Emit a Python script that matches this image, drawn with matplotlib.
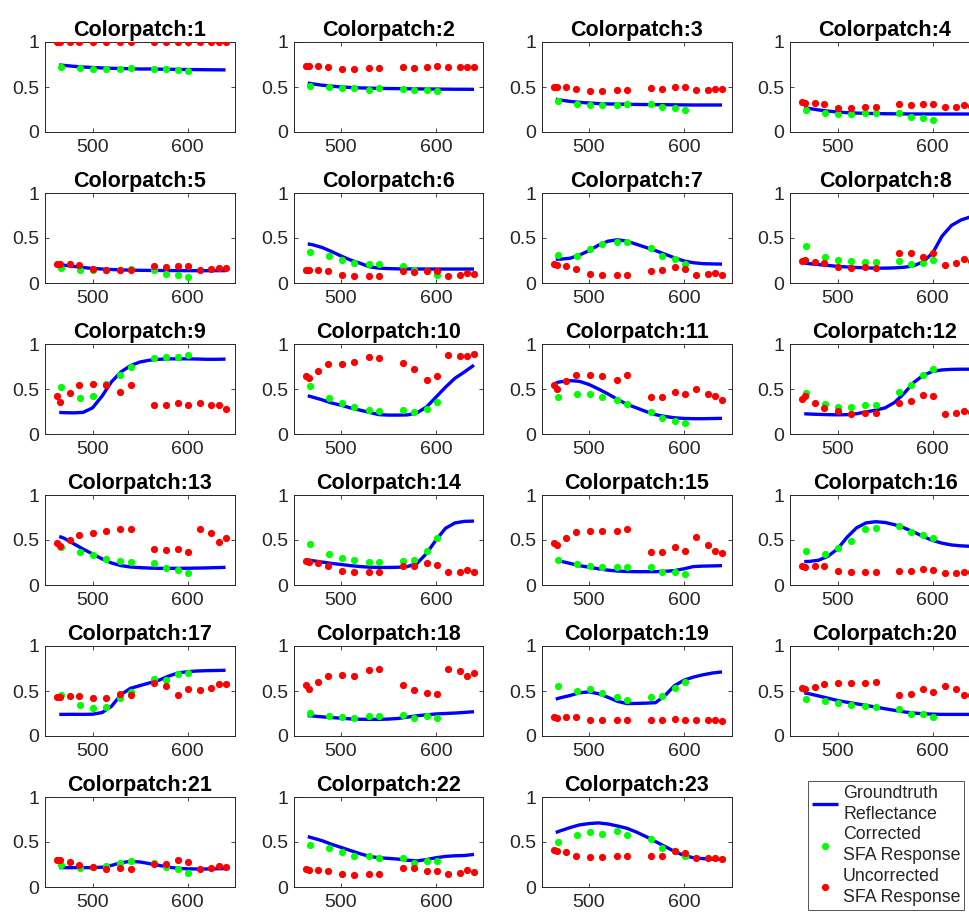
import matplotlib
matplotlib.use("Agg")
import matplotlib.pyplot as plt

plt.rcParams['font.family'] = ['Liberation Sans', 'DejaVu Sans']

# wavelengths (nm)
WL_RED = [463, 466, 476, 486, 501, 514, 529, 540, 565, 577, 590, 601, 613, 625, 633, 640]
WL_GREEN = [467, 487, 501, 514, 529, 540, 565, 577, 590, 601]
WL_GT = [465, 470, 480, 490, 500, 510, 520, 530, 540, 550, 560, 570, 580, 590, 600, 610, 620, 630, 640]

XTICKS = [500, 600]
YTICKS = [0, 0.5, 1]
YTICKLABELS = ['0', '0.5', '1']

GT = {
 1: [0.745,0.74,0.73,0.722,0.717,0.712,0.708,0.705,0.703,0.70,0.70,0.698,0.697,0.695,0.694,0.693,0.692,0.691,0.69],
 2: [0.545,0.535,0.52,0.51,0.50,0.495,0.49,0.487,0.485,0.483,0.482,0.48,0.479,0.478,0.477,0.476,0.475,0.475,0.474],
 3: [0.365,0.355,0.34,0.33,0.322,0.316,0.312,0.31,0.308,0.306,0.305,0.304,0.303,0.302,0.301,0.30,0.30,0.30,0.30],
 4: [0.275,0.262,0.245,0.232,0.222,0.215,0.21,0.207,0.205,0.203,0.202,0.201,0.20,0.20,0.20,0.20,0.20,0.20,0.20],
 5: [0.205,0.198,0.185,0.172,0.162,0.155,0.15,0.146,0.143,0.141,0.14,0.139,0.138,0.138,0.137,0.137,0.137,0.137,0.137],
 6: [0.435,0.425,0.395,0.35,0.30,0.255,0.22,0.18,0.165,0.16,0.157,0.156,0.156,0.155,0.155,0.155,0.155,0.155,0.155],
 7: [0.265,0.265,0.275,0.31,0.36,0.42,0.465,0.48,0.465,0.43,0.395,0.36,0.32,0.28,0.245,0.225,0.215,0.212,0.21],
 8: [0.222,0.215,0.205,0.195,0.185,0.178,0.172,0.168,0.165,0.165,0.168,0.175,0.19,0.235,0.33,0.52,0.64,0.70,0.735],
 9: [0.24,0.237,0.235,0.24,0.29,0.42,0.58,0.69,0.76,0.80,0.82,0.83,0.835,0.835,0.835,0.833,0.83,0.83,0.832],
 10: [0.425,0.41,0.38,0.345,0.32,0.29,0.265,0.24,0.215,0.21,0.21,0.212,0.235,0.30,0.41,0.52,0.62,0.69,0.765],
 11: [0.57,0.58,0.593,0.585,0.55,0.50,0.445,0.385,0.33,0.29,0.25,0.215,0.195,0.18,0.173,0.17,0.17,0.172,0.174],
 12: [0.225,0.222,0.218,0.215,0.213,0.215,0.225,0.245,0.265,0.29,0.35,0.45,0.57,0.65,0.695,0.712,0.718,0.72,0.72],
 13: [0.54,0.52,0.46,0.40,0.345,0.29,0.245,0.215,0.20,0.193,0.188,0.185,0.185,0.185,0.186,0.188,0.19,0.193,0.196],
 14: [0.28,0.27,0.255,0.24,0.228,0.215,0.205,0.198,0.195,0.195,0.197,0.205,0.24,0.35,0.50,0.63,0.69,0.707,0.71],
 15: [0.28,0.265,0.24,0.215,0.198,0.18,0.165,0.155,0.15,0.148,0.148,0.148,0.152,0.16,0.18,0.205,0.21,0.212,0.215],
 16: [0.26,0.262,0.275,0.32,0.40,0.53,0.635,0.69,0.703,0.695,0.67,0.635,0.59,0.54,0.495,0.465,0.445,0.435,0.43],
 17: [0.24,0.24,0.241,0.24,0.242,0.26,0.33,0.46,0.53,0.56,0.59,0.62,0.665,0.70,0.715,0.722,0.726,0.728,0.73],
 18: [0.226,0.222,0.213,0.205,0.198,0.19,0.186,0.185,0.185,0.188,0.195,0.21,0.225,0.235,0.245,0.25,0.255,0.262,0.27],
 19: [0.41,0.425,0.45,0.48,0.49,0.47,0.43,0.385,0.36,0.362,0.365,0.37,0.45,0.56,0.62,0.655,0.68,0.70,0.712],
 20: [0.48,0.47,0.445,0.42,0.395,0.375,0.358,0.34,0.322,0.303,0.285,0.268,0.255,0.247,0.243,0.24,0.24,0.24,0.24],
 21: [0.215,0.215,0.215,0.215,0.215,0.22,0.24,0.27,0.285,0.278,0.26,0.24,0.22,0.208,0.202,0.20,0.20,0.202,0.205],
 22: [0.56,0.545,0.515,0.475,0.44,0.405,0.37,0.34,0.325,0.318,0.31,0.298,0.29,0.305,0.325,0.34,0.347,0.35,0.362],
 23: [0.605,0.625,0.66,0.69,0.705,0.712,0.70,0.678,0.652,0.61,0.56,0.505,0.45,0.395,0.35,0.325,0.315,0.31,0.307],
}

RED = {
 1: [1.0]*16,
 2: [0.73,0.73,0.73,0.72,0.70,0.70,0.71,0.71,0.72,0.71,0.72,0.73,0.72,0.72,0.72,0.72],
 3: [0.50,0.50,0.50,0.48,0.46,0.46,0.47,0.47,0.49,0.48,0.50,0.50,0.47,0.47,0.48,0.48],
 4: [0.33,0.32,0.32,0.31,0.27,0.27,0.28,0.28,0.31,0.30,0.31,0.31,0.28,0.28,0.30,0.29],
 5: [0.21,0.21,0.21,0.20,0.16,0.14,0.15,0.15,0.19,0.18,0.19,0.19,0.15,0.16,0.17,0.17],
 6: [0.15,0.14,0.14,0.13,0.09,0.08,0.08,0.08,0.13,0.12,0.13,0.13,0.08,0.09,0.11,0.10],
 7: [0.21,0.20,0.19,0.16,0.10,0.09,0.09,0.09,0.13,0.14,0.18,0.16,0.09,0.10,0.11,0.09],
 8: [0.24,0.26,0.23,0.22,0.18,0.17,0.18,0.17,0.33,0.33,0.29,0.33,0.20,0.22,0.27,0.24],
 9: [0.42,0.36,0.46,0.54,0.56,0.55,0.47,0.54,0.32,0.32,0.34,0.32,0.34,0.32,0.32,0.28],
 10: [0.65,0.62,0.70,0.78,0.78,0.80,0.86,0.85,0.79,0.72,0.60,0.65,0.88,0.87,0.87,0.89],
 11: [0.55,0.50,0.59,0.66,0.66,0.64,0.60,0.66,0.41,0.41,0.47,0.44,0.50,0.44,0.42,0.38],
 12: [0.39,0.42,0.35,0.29,0.26,0.22,0.23,0.23,0.35,0.37,0.43,0.42,0.22,0.23,0.26,0.24],
 13: [0.47,0.43,0.50,0.56,0.58,0.60,0.62,0.62,0.40,0.39,0.40,0.37,0.62,0.58,0.48,0.52],
 14: [0.27,0.26,0.25,0.21,0.16,0.15,0.15,0.15,0.21,0.21,0.24,0.22,0.15,0.15,0.17,0.15],
 15: [0.47,0.44,0.52,0.59,0.60,0.60,0.60,0.62,0.37,0.37,0.42,0.38,0.53,0.44,0.38,0.36],
 16: [0.21,0.20,0.21,0.21,0.16,0.15,0.15,0.15,0.16,0.16,0.18,0.17,0.13,0.13,0.15,0.14],
 17: [0.43,0.43,0.44,0.44,0.42,0.42,0.47,0.46,0.59,0.56,0.46,0.52,0.51,0.53,0.58,0.58],
 18: [0.57,0.52,0.60,0.67,0.68,0.67,0.73,0.74,0.57,0.51,0.48,0.47,0.74,0.72,0.67,0.70],
 19: [0.21,0.20,0.21,0.21,0.18,0.18,0.18,0.18,0.18,0.18,0.19,0.18,0.18,0.18,0.18,0.17],
 20: [0.53,0.52,0.54,0.58,0.59,0.59,0.59,0.60,0.46,0.47,0.52,0.49,0.56,0.52,0.46,0.46],
 21: [0.30,0.30,0.28,0.24,0.22,0.20,0.21,0.20,0.26,0.26,0.30,0.28,0.20,0.21,0.23,0.22],
 22: [0.20,0.19,0.19,0.18,0.14,0.13,0.14,0.14,0.21,0.21,0.18,0.18,0.14,0.16,0.19,0.17],
 23: [0.41,0.40,0.39,0.35,0.33,0.33,0.34,0.34,0.35,0.35,0.40,0.38,0.32,0.32,0.32,0.31],
}

GREEN = {
 1: [0.72,0.71,0.70,0.70,0.70,0.71,0.70,0.70,0.69,0.68],
 2: [0.51,0.50,0.49,0.49,0.47,0.49,0.48,0.47,0.47,0.46],
 3: [0.34,0.31,0.30,0.30,0.30,0.31,0.31,0.28,0.27,0.25],
 4: [0.24,0.21,0.20,0.20,0.21,0.21,0.21,0.17,0.16,0.13],
 5: [0.17,0.15,0.14,0.14,0.14,0.16,0.14,0.10,0.09,0.07],
 6: [0.34,0.30,0.26,0.22,0.21,0.21,0.19,0.15,0.13,0.09],
 7: [0.31,0.30,0.38,0.43,0.46,0.46,0.39,0.30,0.27,0.21],
 8: [0.41,0.29,0.26,0.24,0.23,0.23,0.24,0.21,0.22,0.26],
 9: [0.52,0.40,0.42,0.56,0.66,0.74,0.84,0.86,0.86,0.88],
 10: [0.53,0.40,0.34,0.30,0.27,0.26,0.27,0.24,0.28,0.36],
 11: [0.41,0.45,0.45,0.41,0.38,0.33,0.24,0.18,0.15,0.12],
 12: [0.46,0.33,0.30,0.30,0.32,0.32,0.47,0.55,0.66,0.72],
 13: [0.42,0.37,0.33,0.29,0.27,0.26,0.24,0.19,0.17,0.13],
 14: [0.46,0.34,0.30,0.28,0.26,0.26,0.27,0.28,0.38,0.52],
 15: [0.28,0.23,0.21,0.20,0.20,0.20,0.20,0.15,0.15,0.12],
 16: [0.38,0.34,0.41,0.49,0.62,0.63,0.66,0.59,0.56,0.52],
 17: [0.46,0.34,0.31,0.32,0.42,0.49,0.63,0.62,0.69,0.70],
 18: [0.26,0.22,0.21,0.20,0.22,0.22,0.23,0.20,0.22,0.20],
 19: [0.56,0.50,0.52,0.48,0.43,0.40,0.43,0.44,0.53,0.60],
 20: [0.41,0.39,0.37,0.34,0.33,0.32,0.30,0.24,0.24,0.21],
 21: [0.24,0.21,0.22,0.23,0.27,0.29,0.27,0.22,0.20,0.16],
 22: [0.47,0.43,0.39,0.35,0.34,0.32,0.32,0.27,0.29,0.29],
 23: [0.50,0.58,0.61,0.59,0.62,0.58,0.53,0.43,0.40,0.34],
}

LEGEND_LABELS = ['Groundtruth\nReflectance', 'Corrected\nSFA Response', 'Uncorrected\nSFA Response']

W, H = 969, 916
fig = plt.figure(figsize=(W / 100, H / 100), dpi=100)

col_left = [45, 293.5, 541.5, 790]
row_top = [42, 193, 344, 495, 646, 797]
ax_w, ax_h = 190, 90
axcol = '#262626'

handles = None
for k in range(1, 24):
    r, c = divmod(k - 1, 4)
    ax = fig.add_axes([col_left[c] / W, (H - row_top[r] - ax_h) / H, ax_w / W, ax_h / H])
    l1, = ax.plot(WL_GT, GT[k], color='#0000ff', lw=2.4, solid_capstyle='butt', zorder=2)
    l2, = ax.plot(WL_GREEN, GREEN[k], 'o', color='#00ff00', ms=5.2, mec='none', zorder=3)
    l3, = ax.plot(WL_RED, RED[k], 'o', color='#ff0000', ms=5.2, mec='none', zorder=4)
    handles = [l1, l2, l3]
    ax.set_xlim(450, 650)
    ax.set_ylim(0, 1)
    ax.set_xticks(XTICKS)
    ax.set_yticks(YTICKS)
    ax.set_yticklabels(YTICKLABELS)
    ax.tick_params(direction='in', length=3, width=0.6, colors=axcol, labelsize=14,
                   top=True, right=True)
    ax.tick_params(axis='x', pad=5)
    ax.tick_params(axis='y', pad=4)
    for s in ax.spines.values():
        s.set_color(axcol)
        s.set_linewidth(0.7)
    ax.set_title('Colorpatch:%d' % k, fontsize=15.5, fontweight='bold', pad=4)

leg = fig.legend(handles, LEGEND_LABELS, loc='upper left',
                 bbox_to_anchor=(808 / W, (H - 781) / H), fontsize=12.8,
                 frameon=True, fancybox=False, edgecolor='#262626',
                 handlelength=1.45, handletextpad=0.3, labelspacing=0.2,
                 borderpad=0.22, borderaxespad=0)
leg.get_frame().set_linewidth(0.7)
for t in leg.get_texts():
    t.set_linespacing(1.3)
    t.set_color('#262626')

fig.savefig('out.png', dpi=100)
